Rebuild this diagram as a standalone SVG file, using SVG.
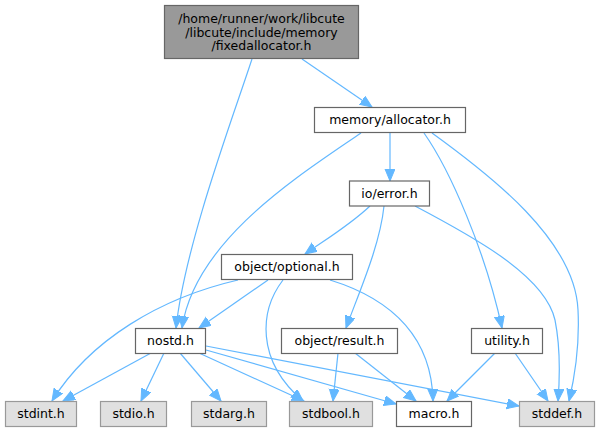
<svg xmlns="http://www.w3.org/2000/svg" width="599" height="432" viewBox="0 0 599 432">
<style>
text{font-family:"DejaVu Sans","Liberation Sans",sans-serif;font-size:12.5px;fill:#000;text-anchor:middle}
.root{fill:#999999;stroke:#666666;stroke-width:1.2}
.doc{fill:#ffffff;stroke:#666666;stroke-width:1.2}
.ext{fill:#e0e0e0;stroke:#999999;stroke-width:1.2}
.e{fill:none;stroke:#63b8ff;stroke-width:1.2;marker-end:url(#ah)}
</style>
<defs>
<marker id="ah" markerUnits="userSpaceOnUse" markerWidth="13" markerHeight="11" refX="12" refY="5" orient="auto">
<path d="M0,0 L12,5 L0,10 z" fill="#63b8ff" stroke="#63b8ff" stroke-width="1"/>
</marker>
</defs>
<rect width="599" height="432" fill="#ffffff"/>
<g id="edges">
<path class="e" d="M302,59 L372,107"/>
<path class="e" d="M252,59 C232,120 185,245 176,328"/>
<path class="e" d="M361,133 C300,175 195,240 182,328"/>
<path class="e" d="M390,133 L390,181"/>
<path class="e" d="M424,133 C450,170 485,250 502,328"/>
<path class="e" d="M432,133 C490,175 575,240 578,310 C580,350 574,380 569,401"/>
<path class="e" d="M370,206 C350,225 325,240 305,254"/>
<path class="e" d="M384,206 C380,245 360,290 346,328"/>
<path class="e" d="M415,206 C470,235 545,275 555,320 C560,345 560,375 558,401"/>
<path class="e" d="M268,280 L199,328"/>
<path class="e" d="M238,280 C160,298 90,340 52,401"/>
<path class="e" d="M283,280 C260,310 255,360 303,401"/>
<path class="e" d="M330,280 C395,300 432,340 433,401"/>
<path class="e" d="M338,353 L333,401"/>
<path class="e" d="M355,353 L416,401"/>
<path class="e" d="M495,353 L447,401"/>
<path class="e" d="M515,353 L548,401"/>
<path class="e" d="M151,353 L63,401"/>
<path class="e" d="M164,353 L141,401"/>
<path class="e" d="M180,353 L221,401"/>
<path class="e" d="M199,353 L304,401"/>
<path class="e" d="M206,350 L396,404"/>
<path class="e" d="M206,346 L519,406"/>
</g>
<g id="fixedallocator">
<rect class="root" x="164.5" y="5.5" width="194" height="53"/>
<text x="261.5" y="23">/home/runner/work/libcute</text>
<text x="261.5" y="36.5">/libcute/include/memory</text>
<text x="261.5" y="50">/fixedallocator.h</text>
</g>
<g id="allocator"><rect class="doc" x="314.5" y="107.5" width="151" height="25"/><text x="390" y="124.3">memory/allocator.h</text></g>
<g id="error"><rect class="doc" x="349.5" y="181" width="80" height="25"/><text x="389.5" y="197.8">io/error.h</text></g>
<g id="optional"><rect class="doc" x="221.5" y="254.5" width="131" height="25"/><text x="287" y="271.3">object/optional.h</text></g>
<g id="nostd"><rect class="doc" x="135.5" y="328.5" width="70" height="25"/><text x="170.5" y="345.3">nostd.h</text></g>
<g id="result"><rect class="doc" x="281.5" y="328.5" width="116" height="25"/><text x="339.5" y="345.3">object/result.h</text></g>
<g id="utility"><rect class="doc" x="471.5" y="328.5" width="71" height="25"/><text x="507" y="345.3">utility.h</text></g>
<g id="stdint"><rect class="ext" x="5.5" y="401.5" width="71" height="25"/><text x="41" y="418.3">stdint.h</text></g>
<g id="stdio"><rect class="ext" x="100.5" y="401.5" width="66" height="25"/><text x="133.5" y="418.3">stdio.h</text></g>
<g id="stdarg"><rect class="ext" x="191.5" y="401.5" width="75" height="25"/><text x="229" y="418.3">stdarg.h</text></g>
<g id="stdbool"><rect class="ext" x="289.5" y="401.5" width="83" height="25"/><text x="331" y="418.3">stdbool.h</text></g>
<g id="macro"><rect class="doc" x="396.5" y="401.5" width="75" height="25"/><text x="434" y="418.3">macro.h</text></g>
<g id="stddef"><rect class="ext" x="519.5" y="401.5" width="75" height="25"/><text x="557" y="418.3">stddef.h</text></g>
</svg>
